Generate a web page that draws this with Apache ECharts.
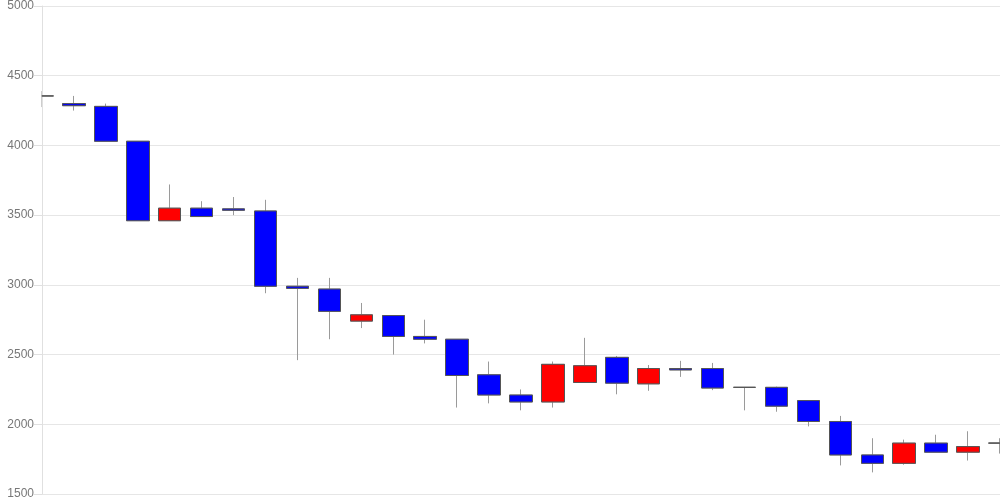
<!DOCTYPE html>
<html>
<head>
<meta charset="utf-8">
<script src="https://cdn.jsdelivr.net/npm/echarts@6/dist/echarts.min.js"></script>
<style>html,body{margin:0;padding:0;background:#fff}#c{width:1000px;height:500px}</style>
</head>
<body>
<div id="c"></div>
<script>
const categories = ['1','2','3','4','5','6','7','8','9','10','11','12','13','14','15','16','17','18','19','20','21','22','23','24','25','26','27','28','29','30','31'];
const opens  = [4355,4300,4280,4030,3460,3550,3545,3530,2990,2970,2740,2780,2630,2610,2355,2210,2160,2300,2480,2290,2400,2400,2265,2265,2170,2020,1780,1720,1865,1800,1865];
const closes = [4355,4285,4030,3460,3550,3490,3535,2990,2975,2810,2785,2630,2610,2350,2210,2160,2430,2420,2295,2400,2390,2260,2265,2130,2020,1780,1720,1865,1800,1840,1865];
const lows   = [4275,4250,4030,3460,3460,3490,3500,2940,2460,2610,2690,2500,2580,2120,2150,2100,2120,2300,2215,2240,2340,2245,2100,2090,1985,1705,1655,1710,1800,1740,1790];
const highs  = [4390,4355,4300,4030,3720,3600,3630,3610,3050,3050,2870,2780,2750,2610,2450,2250,2450,2620,2490,2425,2455,2440,2265,2270,2170,2060,1900,1890,1925,1950,1900];
const yTicks = [1500,2000,2500,3000,3500,4000,4500,5000];

// full candles (wicks) and body-only overlay, both from the same arrays
const wickData = categories.map((c,i)=>[opens[i],closes[i],lows[i],highs[i]]);
const bodyData = categories.map((c,i)=>[opens[i],closes[i],Math.min(opens[i],closes[i]),Math.max(opens[i],closes[i])]);

const chart = echarts.init(document.getElementById('c'));
chart.setOption({
  animation:false,
  grid:{left:42,right:0,top:6,bottom:6,containLabel:false},
  xAxis:{type:'category',data:categories,boundaryGap:false,
    axisLabel:{show:false},axisTick:{show:false},axisLine:{show:false},splitLine:{show:false}},
  yAxis:{type:'value',min:yTicks[0],max:yTicks[yTicks.length-1],interval:500,
    axisLine:{show:true,lineStyle:{color:'#e0e0e0'}},
    axisTick:{show:true,length:8,lineStyle:{color:'#e0e0e0'}},
    axisLabel:{color:'#777',fontSize:12,fontFamily:'Liberation Sans, Arial, sans-serif',margin:8,formatter:v=>String(v)},
    splitLine:{lineStyle:{color:'#e6e6e6'}}},
  graphic:[{type:'rect',z:100,left:0,top:82,shape:{width:41.5,height:32},style:{fill:'#fff'}}],
  series:[
    {type:'candlestick',data:wickData,barWidth:23,clip:true,z:2,
      itemStyle:{color:'#ff0000',color0:'#0000ff',borderColor:'#9a9a9a',borderColor0:'#9a9a9a',borderColorDoji:'#9a9a9a',borderWidth:1}},
    {type:'candlestick',data:bodyData,barWidth:23,clip:true,z:3,
      itemStyle:{color:'#ff0000',color0:'#0000ff',borderColor:'#555',borderColor0:'#555',borderColorDoji:'#555',borderWidth:1}}
  ]
});
</script>
</body>
</html>
